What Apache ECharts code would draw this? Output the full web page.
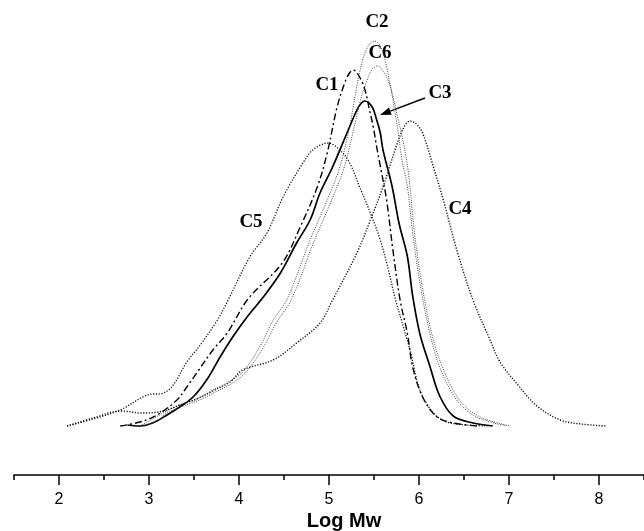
<!DOCTYPE html>
<html>
<head>
<meta charset="utf-8">
<script src="https://cdn.jsdelivr.net/npm/echarts@6/dist/echarts.min.js"></script>
<style>
html,body{margin:0;padding:0;background:#fff;}
#chart{width:644px;height:531px;}
</style>
</head>
<body>
<div id="chart"></div>
<script>
// Curve data: [log Mw, relative weight fraction]
const c1 = [[2.68,0],[2.9,0.04],[3.09,0.11],[3.31,0.26],[3.42,0.39],[3.53,0.53],[3.71,0.76],[3.87,0.93],[4.1,1.27],[4.48,1.63],[4.68,1.99],[4.87,2.39],[4.98,2.73],[5.09,3.19],[5.17,3.42],[5.22,3.52],[5.27,3.56],[5.34,3.49],[5.4,3.36],[5.45,3.16],[5.49,3.0],[5.53,2.79],[5.57,2.6],[5.64,2.26],[5.71,1.76],[5.79,1.26],[5.87,0.93],[5.93,0.59],[6.04,0.29],[6.2,0.09],[6.38,0.03],[6.64,0]];
const c2 = [[2.9,0],[3.0,0.05],[3.16,0.13],[3.34,0.21],[3.53,0.27],[3.71,0.36],[3.9,0.45],[4.04,0.54],[4.23,0.79],[4.38,1.06],[4.53,1.26],[4.79,1.86],[4.98,2.26],[5.12,2.59],[5.23,3.0],[5.31,3.4],[5.38,3.68],[5.45,3.82],[5.51,3.85],[5.58,3.78],[5.64,3.59],[5.71,3.26],[5.77,2.93],[5.81,2.66],[5.87,2.4],[5.93,1.93],[6.01,1.43],[6.12,0.93],[6.23,0.59],[6.42,0.26],[6.64,0.09],[6.98,0]];
const c3 = [[2.76,0.01],[2.9,0],[3.04,0.03],[3.2,0.11],[3.34,0.19],[3.49,0.29],[3.64,0.46],[3.79,0.69],[3.93,0.89],[4.09,1.09],[4.27,1.29],[4.46,1.53],[4.64,1.83],[4.79,2.06],[4.9,2.33],[5.04,2.59],[5.2,2.93],[5.31,3.16],[5.36,3.23],[5.4,3.25],[5.48,3.19],[5.53,3.06],[5.57,2.93],[5.6,2.76],[5.7,2.4],[5.78,2.02],[5.87,1.7],[5.93,1.3],[6.01,0.92],[6.12,0.6],[6.23,0.3],[6.38,0.1],[6.6,0.03],[6.82,0]];
const c4 = [[2.09,0],[2.38,0.08],[2.68,0.15],[2.93,0.13],[3.16,0.15],[3.34,0.21],[3.53,0.27],[3.71,0.35],[3.9,0.44],[4.04,0.56],[4.38,0.66],[4.64,0.83],[4.9,1.03],[5.04,1.26],[5.31,1.73],[5.46,2.06],[5.6,2.39],[5.76,2.83],[5.84,3.0],[5.9,3.05],[5.97,3.02],[6.04,2.93],[6.16,2.59],[6.27,2.26],[6.42,1.76],[6.6,1.26],[6.79,0.86],[6.9,0.64],[7.1,0.41],[7.31,0.2],[7.57,0.06],[7.8,0.02],[8.09,0]];
const c5 = [[2.09,0],[2.38,0.07],[2.68,0.16],[2.98,0.31],[3.16,0.33],[3.27,0.41],[3.42,0.64],[3.57,0.81],[3.76,1.06],[3.88,1.26],[4.12,1.69],[4.31,1.93],[4.49,2.29],[4.71,2.63],[4.82,2.76],[4.99,2.83],[5.12,2.76],[5.23,2.63],[5.34,2.39],[5.46,2.13],[5.57,1.86],[5.66,1.56],[5.74,1.26],[5.9,0.76],[6.01,0.36],[6.16,0.13],[6.31,0.04],[6.53,0.01],[6.76,0]];
const c6 = [[2.95,0],[3.1,0.06],[3.2,0.13],[3.38,0.2],[3.56,0.26],[3.74,0.34],[3.93,0.43],[4.07,0.53],[4.26,0.77],[4.42,1.04],[4.58,1.26],[4.84,1.86],[5.03,2.26],[5.17,2.59],[5.28,2.99],[5.35,3.26],[5.42,3.45],[5.48,3.57],[5.54,3.6],[5.6,3.55],[5.66,3.45],[5.71,3.3],[5.76,3.1],[5.82,2.86],[5.88,2.55],[5.95,1.93],[6.03,1.43],[6.14,0.93],[6.26,0.59],[6.45,0.26],[6.68,0.09],[7.02,0]];
const curveNames = ['C1','C2','C3','C4','C5','C6'];
const xTicks = [2,3,4,5,6,7,8];
const axisTitle = 'Log Mw';

const chart = echarts.init(document.getElementById('chart'), null, {renderer:'canvas'});
const dotted = [1.2, 1.6];
const seriesStyles = {
  C1: {type:[7,3,2,3], width:1.4, color:'#000'},
  C2: {type:[1,1.4], width:1, color:'#444'},
  C3: {type:'solid', width:1.7, color:'#000'},
  C4: {type:dotted, width:1.4, color:'#111'},
  C5: {type:dotted, width:1.3, color:'#111'},
  C6: {type:[1,1.4], width:1, color:'#444'}
};
const dataMap = {C1:c1, C2:c2, C3:c3, C4:c4, C5:c5, C6:c6};
const series = curveNames.map(n => ({
  name:n, type:'line', data:dataMap[n], xAxisIndex:0, yAxisIndex:0,
  showSymbol:false, smooth:0.35, silent:true, animation:false,
  lineStyle:seriesStyles[n]
}));

const font = '"Liberation Sans", Arial, sans-serif';
const serif = '"Liberation Serif", "Times New Roman", serif';
const labelStyle = {fontFamily:serif, fontWeight:'bold', fontSize:19, fill:'#000', textAlign:'center', textVerticalAlign:'middle'};
const labels = [
  {t:'C2', x:377, y:22}, {t:'C6', x:380, y:53}, {t:'C1', x:327, y:85},
  {t:'C3', x:440, y:93}, {t:'C4', x:460, y:209}, {t:'C5', x:251, y:222}
];
const tip = [380,115], tail = [425,98];
const dx = tip[0]-tail[0], dy = tip[1]-tail[1], L = Math.hypot(dx,dy);
const ux = dx/L, uy = dy/L, hl = 11, hw = 3.8;
const bx = tip[0]-ux*hl, by = tip[1]-uy*hl;

chart.setOption({
  animation:false,
  backgroundColor:'#fff',
  grid:[
    {left:14, right:0, top:0, bottom:56, containLabel:false},
    {left:59, right:45, top:0, bottom:56, containLabel:false}
  ],
  xAxis:[
    {type:'value', gridIndex:0, min:1.5, max:8.5, interval:0.5,
     axisLine:{show:true, onZero:false, lineStyle:{color:'#000', width:1.6}},
     axisTick:{show:true, length:5, lineStyle:{color:'#000', width:1.5}},
     axisLabel:{show:false}, splitLine:{show:false}},
    {type:'value', gridIndex:1, min:2, max:8, interval:1,
     axisLine:{show:false, onZero:false},
     axisTick:{show:true, length:10, lineStyle:{color:'#000', width:1.5}},
     axisLabel:{show:true, margin:17, fontSize:16, color:'#000', fontFamily:font,
       formatter:v => xTicks.includes(v) ? String(v) : ''},
     splitLine:{show:false}}
  ],
  yAxis:[
    {type:'value', gridIndex:0, min:-0.49, max:4.26, show:false},
    {type:'value', gridIndex:1, min:0, max:1, show:false}
  ],
  series:series,
  graphic:[
    ...labels.map(l => ({type:'text', x:l.x, y:l.y, silent:true,
      style:Object.assign({text:l.t}, labelStyle)})),
    {type:'line', silent:true, shape:{x1:tail[0], y1:tail[1], x2:bx, y2:by},
     style:{stroke:'#000', lineWidth:1.5}},
    {type:'polygon', silent:true,
     shape:{points:[tip, [bx+uy*hw, by-ux*hw], [bx-uy*hw, by+ux*hw]]},
     style:{fill:'#000'}},
    {type:'text', x:344, y:521, silent:true,
     style:{text:axisTitle, fontFamily:font, fontWeight:'bold', fontSize:20, fill:'#000',
       textAlign:'center', textVerticalAlign:'middle'}}
  ]
});
</script>
</body>
</html>
